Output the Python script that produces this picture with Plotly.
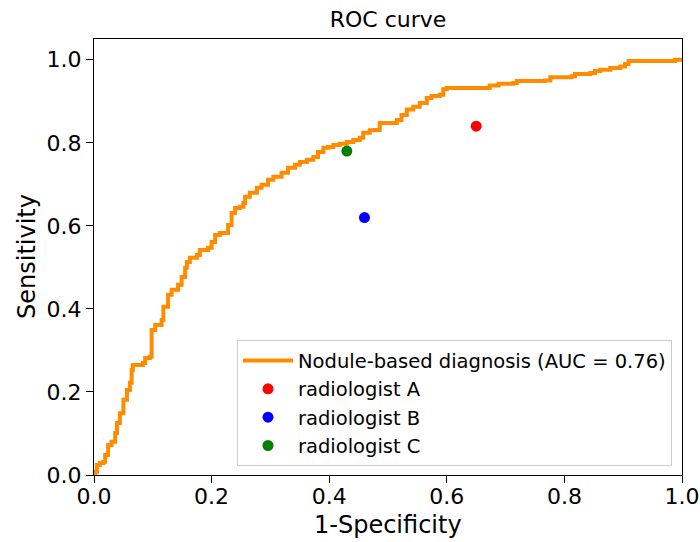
import plotly.graph_objects as go

# ROC curve (false positive rate vs true positive rate)
fpr = [0.000, 0.002, 0.005, 0.010, 0.016, 0.019, 0.024, 0.030, 0.036, 0.039,
       0.044, 0.050, 0.056, 0.061, 0.064, 0.066, 0.083, 0.087, 0.095, 0.098,
       0.098, 0.104, 0.115, 0.118, 0.126, 0.132, 0.143, 0.149, 0.155, 0.158,
       0.163, 0.175, 0.180, 0.194, 0.200, 0.206, 0.214, 0.226, 0.228, 0.234,
       0.240, 0.248, 0.254, 0.257, 0.265, 0.277, 0.285, 0.296, 0.305, 0.319,
       0.330, 0.342, 0.350, 0.362, 0.373, 0.381, 0.390, 0.398, 0.407, 0.418,
       0.430, 0.441, 0.452, 0.458, 0.469, 0.478, 0.486, 0.509, 0.515, 0.523,
       0.532, 0.543, 0.554, 0.566, 0.574, 0.588, 0.594, 0.600, 0.668, 0.673,
       0.688, 0.713, 0.719, 0.767, 0.776, 0.812, 0.818, 0.844, 0.852, 0.861,
       0.878, 0.895, 0.903, 0.909, 0.982, 0.988, 1.000]
tpr = [0.000, 0.008, 0.024, 0.029, 0.032, 0.048, 0.072, 0.080, 0.101, 0.125,
       0.149, 0.181, 0.205, 0.222, 0.253, 0.265, 0.270, 0.282, 0.285, 0.318,
       0.349, 0.361, 0.373, 0.405, 0.434, 0.446, 0.458, 0.477, 0.499, 0.513,
       0.523, 0.530, 0.542, 0.547, 0.561, 0.578, 0.583, 0.583, 0.602, 0.631,
       0.643, 0.646, 0.655, 0.670, 0.680, 0.692, 0.699, 0.711, 0.718, 0.728,
       0.740, 0.747, 0.754, 0.759, 0.766, 0.778, 0.788, 0.790, 0.795, 0.798,
       0.802, 0.807, 0.812, 0.824, 0.830, 0.831, 0.848, 0.848, 0.855, 0.867,
       0.880, 0.887, 0.896, 0.908, 0.913, 0.916, 0.929, 0.932, 0.932, 0.938,
       0.942, 0.944, 0.949, 0.950, 0.958, 0.960, 0.966, 0.968, 0.973, 0.976,
       0.980, 0.984, 0.990, 0.997, 0.997, 1.000, 1.000]
curve_name = "Nodule-based diagnosis (AUC = 0.76)"

# Radiologists' operating points
readers = ["radiologist A", "radiologist B", "radiologist C"]
reader_x = [0.65, 0.46, 0.43]
reader_y = [0.84, 0.62, 0.78]
reader_colors = ["red", "blue", "green"]

tick_vals = [0.0, 0.2, 0.4, 0.6, 0.8, 1.0]
tick_text = ["0.0", "0.2", "0.4", "0.6", "0.8", "1.0"]

FONT = "DejaVu Sans"

fig = go.Figure()
fig.add_trace(go.Scatter(
    x=fpr, y=tpr, mode="lines", name=curve_name,
    line=dict(color="#ff8c00", width=4, shape="hv"),
))
for name, xv, yv, col in zip(readers, reader_x, reader_y, reader_colors):
    fig.add_trace(go.Scatter(
        x=[xv], y=[yv], mode="markers", name=name,
        marker=dict(color=col, size=11, line=dict(width=0)),
    ))

axis_common = dict(
    showgrid=False, zeroline=False, automargin=False,
    showline=True, linecolor="black", linewidth=1.3, mirror=True,
    ticks="outside", ticklen=7, tickwidth=1.3, tickcolor="black",
    tickvals=tick_vals, ticktext=tick_text, ticklabeloverflow="allow",
    tickfont=dict(family=FONT, size=22, color="black"),
)

W, H = 700, 542
fig.update_layout(
    width=W, height=H,
    margin=dict(l=94, r=18, t=39, b=67),
    paper_bgcolor="white", plot_bgcolor="white",
    font=dict(family=FONT, color="black"),
    title=dict(text="ROC curve", x=0.5, xref="paper", xanchor="center",
               y=1 - 19 / H, yref="container", yanchor="middle",
               font=dict(family=FONT, size=22, color="black"),
               automargin=False),
    xaxis=dict(range=[0, 1], ticklabelstandoff=-6, **axis_common),
    yaxis=dict(range=[0, 1.05], **axis_common),
    legend=dict(x=0.983, y=0.02, xanchor="right", yanchor="bottom",
                bgcolor="rgba(255,255,255,0.8)", bordercolor="#cccccc", borderwidth=1,
                font=dict(family=FONT, size=19.5, color="black"),
                itemwidth=50, tracegroupgap=0),
    showlegend=True,
    annotations=[
        dict(text="1-Specificity", xref="paper", yref="paper",
             x=0.5, y=-(50 / 436), xanchor="center", yanchor="middle",
             showarrow=False, font=dict(family=FONT, size=24, color="black")),
        dict(text="Sensitivity", xref="paper", yref="paper",
             x=-(67 / 588), y=0.5, xanchor="center", yanchor="middle",
             textangle=-90, showarrow=False,
             font=dict(family=FONT, size=24, color="black")),
    ],
)

# remove the default 8px page margin so the figure fills the window exactly
fig.write_html("out.html", config={"displayModeBar": False},
               post_script="document.body.style.margin='0';")
